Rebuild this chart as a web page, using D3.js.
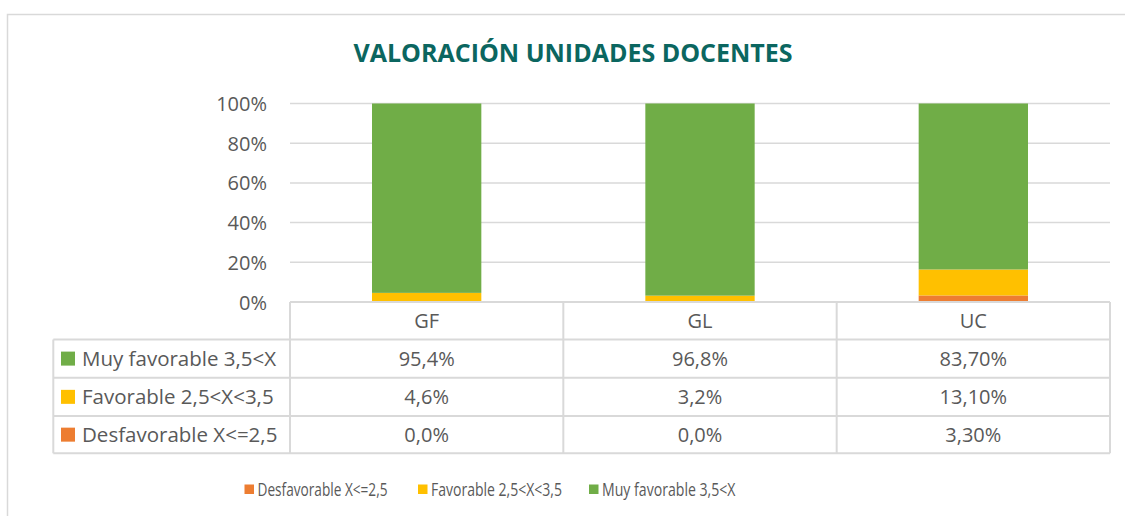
<!DOCTYPE html>
<html>
<head>
<meta charset="utf-8">
<script src="https://cdn.jsdelivr.net/npm/d3@7"></script>
<style>
  html, body { margin: 0; padding: 0; background: #ffffff; }
  svg { display: block; }
</style>
</head>
<body>
<svg id="chart" width="1125" height="516"></svg>
<script>
const title = "VALORACIÓN UNIDADES DOCENTES";
const categories = ["GF", "GL", "UC"];
const seriesNames = ["Desfavorable X<=2,5", "Favorable 2,5<X<3,5", "Muy favorable 3,5<X"];
const desfavorable = [0.0, 0.0, 3.3];
const favorable = [4.6, 3.2, 13.1];
const muyFavorable = [95.4, 96.8, 83.7];
const seriesColors = ["#ED7D31", "#FFC000", "#70AD47"];
// table labels as shown
const labelsDesfavorable = ["0,0%", "0,0%", "3,30%"];
const labelsFavorable = ["4,6%", "3,2%", "13,10%"];
const labelsMuyFavorable = ["95,4%", "96,8%", "83,70%"];
const yTicks = [0, 0.2, 0.4, 0.6, 0.8, 1.0];

(function () {
const svg = d3.select("#chart");
const FONT = "'Open Sans', 'Noto Sans', sans-serif";
const TXT = "#595959";
const LINE = "#D9D9D9";

// chart border
svg.append("rect").attr("x", 7.5).attr("y", 14.5).attr("width", 1130).attr("height", 520)
  .attr("fill", "#fff").attr("stroke", LINE).attr("stroke-width", 1.5);

// title
svg.append("text").attr("x", 573).attr("y", 62).attr("text-anchor", "middle")
  .attr("font-family", FONT).attr("font-weight", 700).attr("font-size", 25)
  .attr("fill", "#0B6660").text(title);

const pLeft = 290, pRight = 1110, pTop = 103.5, pBottom = 302;
const x = d3.scaleBand().domain(categories).range([pLeft, pRight]).paddingInner(0.6).paddingOuter(0.3);
const xCell = d3.scaleBand().domain(categories).range([pLeft, pRight]).padding(0);
const y = d3.scaleLinear().domain([0, 1]).range([pBottom, pTop]);

// gridlines
svg.append("g").selectAll("line").data(yTicks.filter(d => d > 0)).join("line")
  .attr("x1", pLeft).attr("x2", pRight)
  .attr("y1", d => y(d)).attr("y2", d => y(d))
  .attr("stroke", LINE).attr("stroke-width", 1.5);

// y axis labels
const yAxis = d3.axisLeft(y).tickValues(yTicks).tickFormat(d3.format(".0%")).tickSize(0).tickPadding(0);
const yg = svg.append("g").attr("transform", `translate(267,0)`).call(yAxis);
yg.select(".domain").remove();
yg.selectAll("text").attr("font-family", FONT).attr("font-size", 20).attr("fill", TXT).attr("dy", "0.35em");

// stacked data (100% stacked)
const rows = categories.map((c, i) => {
  const tot = desfavorable[i] + favorable[i] + muyFavorable[i];
  return { cat: c, d: desfavorable[i] / tot, f: favorable[i] / tot, m: muyFavorable[i] / tot };
});
const stack = d3.stack().keys(["d", "f", "m"])(rows);
svg.append("g").selectAll("g").data(stack).join("g")
  .attr("fill", (s, i) => seriesColors[i])
  .selectAll("rect").data(s => s).join("rect")
  .attr("x", d => x(d.data.cat)).attr("width", x.bandwidth())
  .attr("y", d => y(d[1])).attr("height", d => Math.max(0, y(d[0]) - y(d[1])));

// data table
const rowBounds = [302, 339.5, 377.7, 416, 453.3];
const tableLeft = 53.3;
const tbl = svg.append("g");
function hline(x1, x2, yy) { tbl.append("line").attr("x1", x1).attr("x2", x2).attr("y1", yy).attr("y2", yy).attr("stroke", LINE).attr("stroke-width", 2); }
function vline(xx, y1, y2) { tbl.append("line").attr("x1", xx).attr("x2", xx).attr("y1", y1).attr("y2", y2).attr("stroke", LINE).attr("stroke-width", 2); }
hline(pLeft, pRight, rowBounds[0]);
for (let r = 1; r < rowBounds.length; r++) hline(tableLeft, pRight, rowBounds[r]);
vline(tableLeft, rowBounds[1], rowBounds[4]);
categories.forEach(c => vline(xCell(c), rowBounds[0], rowBounds[4]));
vline(pRight, rowBounds[0], rowBounds[4]);

// header
tbl.selectAll("text.hdr").data(categories).join("text").attr("class", "hdr")
  .attr("x", d => xCell(d) + xCell.bandwidth() / 2)
  .attr("y", (rowBounds[0] + rowBounds[1]) / 2).attr("dy", "0.35em")
  .attr("text-anchor", "middle").attr("font-family", FONT).attr("font-size", 20).attr("fill", TXT)
  .text(d => d);

const tableRows = [
  { name: seriesNames[2], color: seriesColors[2], labels: labelsMuyFavorable },
  { name: seriesNames[1], color: seriesColors[1], labels: labelsFavorable },
  { name: seriesNames[0], color: seriesColors[0], labels: labelsDesfavorable }
];
tableRows.forEach((r, ri) => {
  const cy = (rowBounds[ri + 1] + rowBounds[ri + 2]) / 2;
  tbl.append("rect").attr("x", 61).attr("y", cy - 7).attr("width", 14).attr("height", 14).attr("fill", r.color);
  tbl.append("text").attr("x", 82).attr("y", cy).attr("dy", "0.35em")
    .attr("font-family", FONT).attr("font-size", 20.5).attr("fill", TXT).text(r.name);
  categories.forEach((c, ci) => {
    tbl.append("text").attr("x", xCell(c) + xCell.bandwidth() / 2).attr("y", cy).attr("dy", "0.35em")
      .attr("text-anchor", "middle").attr("font-family", FONT).attr("font-size", 20).attr("fill", TXT)
      .text(r.labels[ci]);
  });
});

// bottom legend
const legendX = [244.5, 418, 589];
const legendW = [130, 131, 133.5];
const lg = svg.append("g");
seriesNames.forEach((n, i) => {
  lg.append("rect").attr("x", legendX[i]).attr("y", 484.5).attr("width", 9.5).attr("height", 9.5).attr("fill", seriesColors[i]);
  lg.append("text").attr("x", legendX[i] + 13).attr("y", 489.5).attr("dy", "0.35em")
    .attr("font-family", FONT).attr("font-size", 18.5).attr("fill", TXT)
    .attr("textLength", legendW[i]).attr("lengthAdjust", "spacingAndGlyphs").text(n);
});
})();
</script>
</body>
</html>
